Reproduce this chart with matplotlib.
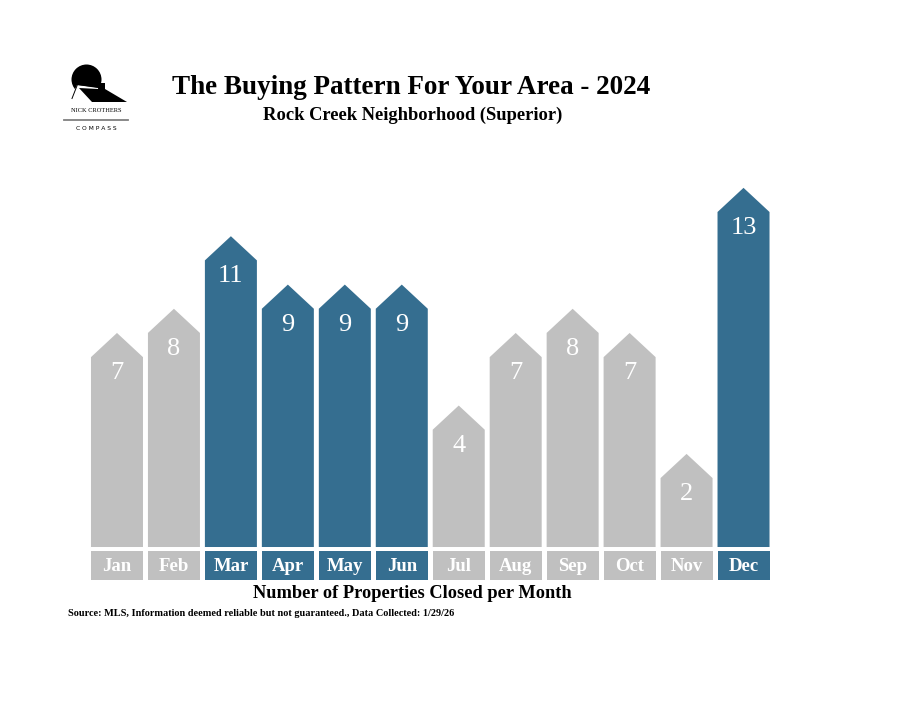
import numpy as np
import matplotlib
matplotlib.use("Agg")
import matplotlib.pyplot as plt
from matplotlib.patches import Polygon, Rectangle, Circle

months = ['Jan', 'Feb', 'Mar', 'Apr', 'May', 'Jun', 'Jul', 'Aug', 'Sep', 'Oct', 'Nov', 'Dec']
closed = [7, 8, 11, 9, 9, 9, 4, 7, 8, 7, 2, 13]
highlight = [False, False, True, True, True, True, False, False, False, False, False, True]

title = 'The Buying Pattern For Your Area - 2024'
subtitle = 'Rock Creek Neighborhood (Superior)'
xlabel = 'Number of Properties Closed per Month'
source = 'Source: MLS, Information deemed reliable but not guaranteed., Data Collected: 1/29/26'

blue = '#356e90'
gray = '#c0c0c0'
serif = ['Liberation Serif', 'DejaVu Serif']

fig = plt.figure(figsize=(9.09, 7.03), dpi=100)

# bar axes: one unit of value = ~24 px
ax = fig.add_axes([88.5 / 909, 120 / 703, 683.5 / 909, 423 / 703])
ax.set_xlim(-0.5, 11.5)
ax.set_ylim(-1.488, 16)
ax.axis('off')

w = 0.913          # bar width
base = 0.85        # body height at value 0
roof = w / 2 * 56.95 / 24.2 * 0.93  # roof height in value units

for i, (m, v, hl) in enumerate(zip(months, closed, highlight)):
    c = blue if hl else gray
    top = v + base
    pts = [(i - w / 2, 0), (i - w / 2, top), (i, top + roof),
           (i + w / 2, top), (i + w / 2, 0)]
    ax.add_patch(Polygon(pts, closed=True, facecolor=c, edgecolor='none'))
    ax.text(i, top - 0.66, str(v), ha='center', va='center', color='white',
            fontsize=19, family=serif)
    # month label box
    ax.add_patch(Rectangle((i - w / 2, -1.36), w, 1.2, facecolor=c, edgecolor='none'))
    ax.text(i, -0.79, m, ha='center', va='center', color='white',
            fontsize=13.5, fontweight='bold', family=serif)

# overlay in pixel coordinates for titles and logo
ov = fig.add_axes([0, 0, 1, 1], zorder=-1)
ov.set_xlim(0, 909)
ov.set_ylim(703, 0)
ov.axis('off')

ov.text(411, 87, title, ha='center', va='center', fontsize=19.5, fontweight='bold', family=serif)
ov.text(413, 115, subtitle, ha='center', va='center', fontsize=13.3, fontweight='bold', family=serif)
ov.text(412, 593, xlabel, ha='center', va='center', fontsize=13.2, fontweight='bold', family=serif)
ov.text(68, 613, source, ha='left', va='center', fontsize=7.4, fontweight='bold', family=serif)

# logo
ov.add_patch(Circle((86.5, 79.5), 15, facecolor='black', edgecolor='none'))
ov.add_patch(Polygon([(70, 100), (77, 85), (98, 88), (98, 100)], closed=True,
                     facecolor='white', edgecolor='none'))
ov.add_patch(Polygon([(79, 88), (98, 89), (99, 83), (105, 83), (105, 89),
                      (127, 102), (92, 102)], closed=True, facecolor='black', edgecolor='none'))
ov.plot([72, 77.5], [98.5, 84.5], color='black', lw=0.7)
ov.plot([77.5, 98], [84.5, 87], color='black', lw=0.7)
ov.text(96, 111, 'NICK CROTHERS', ha='center', va='center', fontsize=4.6, family=serif)
ov.plot([64, 128], [120, 120], color='#808080', lw=1.3)
ov.text(96, 129, 'C O M P A S S', ha='center', va='center', fontsize=4.3, family=['DejaVu Sans'])

fig.savefig('out.png', dpi=100)
